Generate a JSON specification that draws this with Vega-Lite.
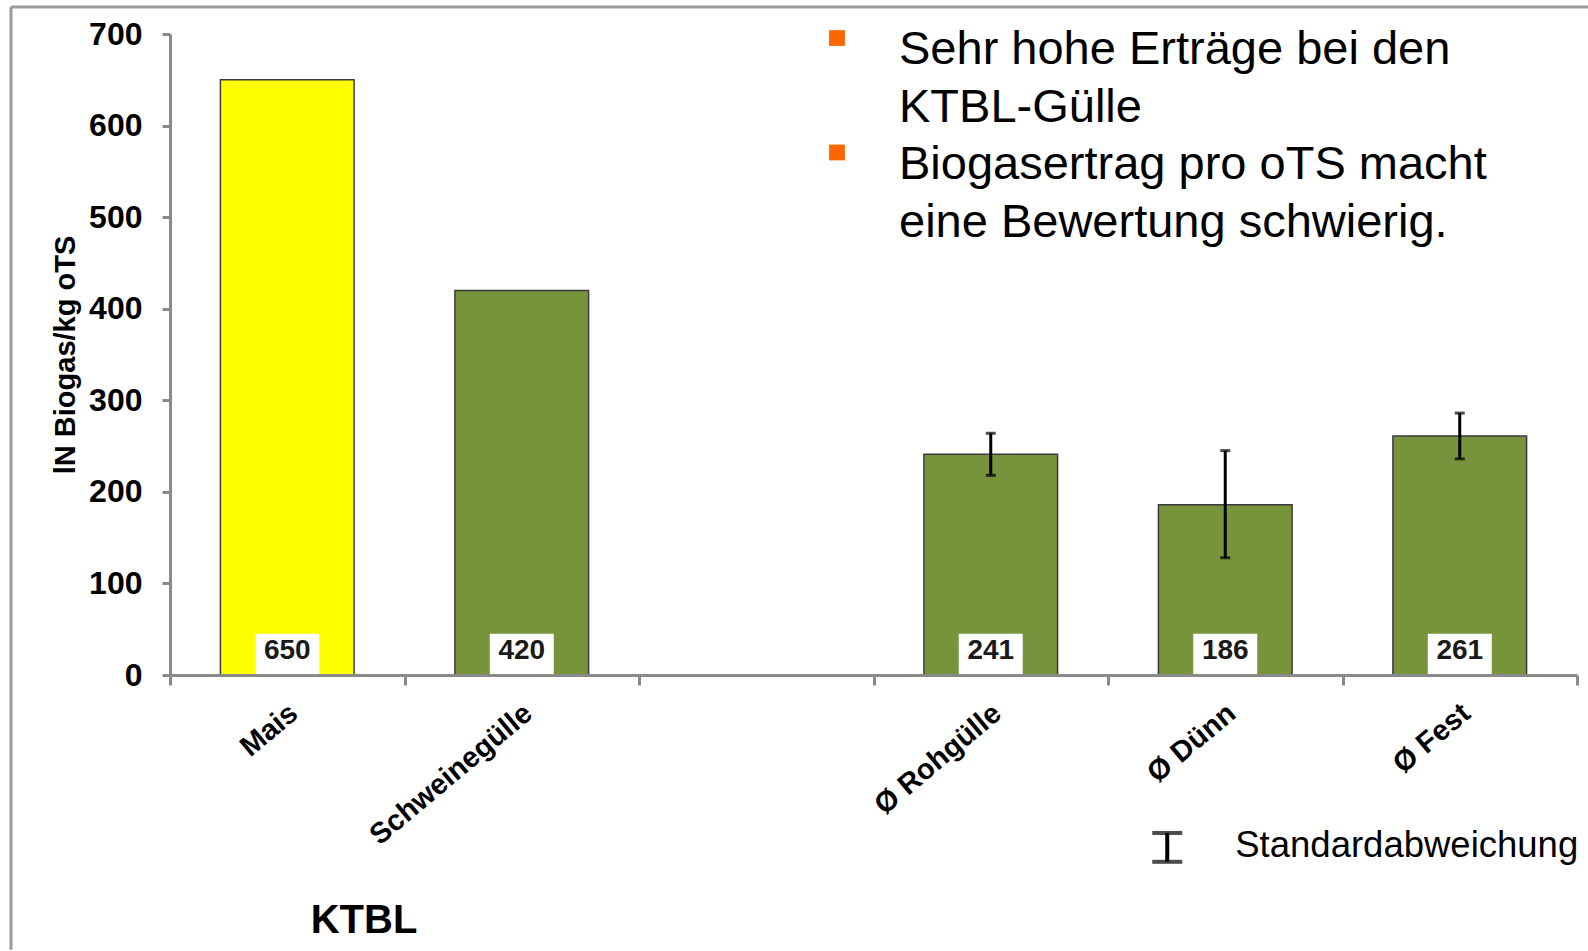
{
  "$schema": "https://vega.github.io/schema/vega-lite/v6.json",
  "width": 1407,
  "height": 641,
  "autosize": {"type": "none"},
  "padding": {"left": 170, "top": 34, "right": 11, "bottom": 276},
  "background": "white",
  "config": {"view": {"stroke": null}, "font": "Liberation Sans"},
  "data": {"values": [
    {"Kategorie": "Mais", "Wert": 650, "Gruppe": "Mais"},
    {"Kategorie": "Schweinegülle", "Wert": 420, "Gruppe": "Gülle"},
    {"Kategorie": "Ø Rohgülle", "Wert": 241, "SD_unten": 218, "SD_oben": 264, "Gruppe": "Gülle"},
    {"Kategorie": "Ø Dünn", "Wert": 186, "SD_unten": 128, "SD_oben": 245, "Gruppe": "Gülle"},
    {"Kategorie": "Ø Fest", "Wert": 261, "SD_unten": 236, "SD_oben": 286, "Gruppe": "Gülle"}
  ]},
  "encoding": {
    "x": {
      "field": "Kategorie",
      "type": "nominal",
      "sort": null,
      "scale": {"domain": ["Mais", "Schweinegülle", "Lücke", "Ø Rohgülle", "Ø Dünn", "Ø Fest"], "paddingInner": 0, "paddingOuter": 0},
      "axis": {
        "title": null,
        "labelExpr": "datum.value == 'Lücke' ? '' : datum.value",
        "labelAngle": -40,
        "labelAlign": "right",
        "labelBaseline": "middle",
        "labelFont": "Liberation Sans",
        "labelFontSize": 29,
        "labelFontWeight": "bold",
        "labelColor": "black",
        "labelPadding": 24,
        "labelOffset": 6,
        "labelLimit": 0,
        "tickBand": "extent",
        "tickSize": 10,
        "tickWidth": 3,
        "tickColor": "#8a8a8a",
        "domainColor": "#8a8a8a",
        "domainWidth": 3,
        "zindex": 1
      }
    }
  },
  "layer": [
    {
      "mark": {"type": "bar", "width": {"band": 0.57}, "stroke": "#3b3b3b", "strokeWidth": 1.5},
      "encoding": {
        "y": {
          "field": "Wert",
          "type": "quantitative",
          "scale": {"domain": [0, 700], "nice": false},
          "axis": {
            "title": "lN Biogas/kg oTS",
            "values": [0, 100, 200, 300, 400, 500, 600, 700],
            "grid": false,
            "labelFont": "Liberation Sans",
            "labelFontSize": 32,
            "labelFontWeight": "bold",
            "labelColor": "black",
            "labelPadding": 20,
            "tickSize": 8,
            "tickWidth": 3,
            "tickColor": "#8a8a8a",
            "domainColor": "#8a8a8a",
            "domainWidth": 3,
            "titleFont": "Liberation Sans",
            "titleFontSize": 29,
            "titleFontWeight": "bold",
            "titleColor": "black",
            "titlePadding": 8,
            "zindex": 1
          }
        },
        "color": {"field": "Gruppe", "type": "nominal", "scale": {"domain": ["Mais", "Gülle"], "range": ["#FFFF00", "#77933C"]}, "legend": null}
      }
    },
    {
      "mark": {"type": "bar", "width": 64, "color": "white"},
      "encoding": {"y": {"datum": 0}, "y2": {"datum": 45}}
    },
    {
      "mark": {"type": "text", "fontSize": 28, "fontWeight": "bold", "color": "#1a1a1a", "baseline": "middle"},
      "encoding": {"y": {"datum": 26.5}, "text": {"field": "Wert", "type": "quantitative"}}
    },
    {
      "transform": [{"filter": "datum.SD_unten != null"}],
      "mark": {"type": "rule", "strokeWidth": 3, "color": "black"},
      "encoding": {"y": {"field": "SD_unten", "type": "quantitative"}, "y2": {"field": "SD_oben"}}
    },
    {
      "transform": [{"filter": "datum.SD_unten != null"}],
      "mark": {"type": "tick", "size": 10, "thickness": 3, "color": "black"},
      "encoding": {"y": {"field": "SD_oben", "type": "quantitative"}}
    },
    {
      "transform": [{"filter": "datum.SD_unten != null"}],
      "mark": {"type": "tick", "size": 10, "thickness": 3, "color": "black"},
      "encoding": {"y": {"field": "SD_unten", "type": "quantitative"}}
    },
    {
      "data": {"values": [{}]},
      "mark": {"type": "rule", "strokeWidth": 3, "color": "#9a9a9a", "xOffset": -276.25, "x2Offset": 128.75},
      "encoding": {"x": {"datum": "Mais"}, "x2": {"datum": "Ø Fest"}, "y": {"datum": 729.5}}
    },
    {
      "data": {"values": [{}]},
      "mark": {"type": "rule", "strokeWidth": 3, "color": "#9a9a9a", "xOffset": -276.25},
      "encoding": {"x": {"datum": "Mais"}, "y": {"datum": 729.5}, "y2": {"datum": -300}}
    },
    {
      "data": {"values": [{}]},
      "mark": {"type": "point", "shape": "square", "size": 250, "filled": true, "opacity": 1, "color": "#FF6600", "xOffset": 80.75},
      "encoding": {"x": {"datum": "Lücke"}, "y": {"datum": 695.6}}
    },
    {
      "data": {"values": [{}]},
      "mark": {"type": "point", "shape": "square", "size": 250, "filled": true, "opacity": 1, "color": "#FF6600", "xOffset": 80.75},
      "encoding": {"x": {"datum": "Lücke"}, "y": {"datum": 570.6}}
    },
    {
      "data": {"values": [{}]},
      "mark": {"type": "text", "align": "left", "baseline": "alphabetic", "fontSize": 47, "lineHeight": 57.7, "dx": 142.75, "font": "Liberation Sans", "color": "black", "text": ["Sehr hohe Erträge bei den", "KTBL-Gülle"]},
      "encoding": {"x": {"datum": "Lücke"}, "y": {"datum": 667.3}}
    },
    {
      "data": {"values": [{}]},
      "mark": {"type": "text", "align": "left", "baseline": "alphabetic", "fontSize": 47, "lineHeight": 57.7, "dx": 142.75, "font": "Liberation Sans", "color": "black", "text": ["Biogasertrag pro oTS macht", "eine Bewertung schwierig."]},
      "encoding": {"x": {"datum": "Lücke"}, "y": {"datum": 541.7}}
    },
    {
      "data": {"values": [{}]},
      "mark": {"type": "text", "align": "center", "baseline": "middle", "fontSize": 40, "fontWeight": "bold", "dx": 76.75, "font": "Liberation Sans", "color": "black", "text": "KTBL"},
      "encoding": {"x": {"datum": "Mais"}, "y": {"datum": -268.6}}
    },
    {
      "data": {"values": [{}]},
      "mark": {"type": "text", "align": "left", "baseline": "middle", "fontSize": 36.5, "dx": 10, "font": "Liberation Sans", "color": "black", "text": "Standardabweichung"},
      "encoding": {"x": {"datum": "Ø Dünn"}, "y": {"datum": -187}}
    },
    {
      "data": {"values": [{}]},
      "mark": {"type": "rule", "strokeWidth": 4, "color": "black", "xOffset": -58},
      "encoding": {"x": {"datum": "Ø Dünn"}, "y": {"datum": -172.5}, "y2": {"datum": -204}}
    },
    {
      "data": {"values": [{}]},
      "mark": {"type": "tick", "size": 30, "thickness": 4, "color": "black", "xOffset": -58},
      "encoding": {"x": {"datum": "Ø Dünn"}, "y": {"datum": -172.5}}
    },
    {
      "data": {"values": [{}]},
      "mark": {"type": "tick", "size": 30, "thickness": 4, "color": "black", "xOffset": -58},
      "encoding": {"x": {"datum": "Ø Dünn"}, "y": {"datum": -204}}
    }
  ]
}
